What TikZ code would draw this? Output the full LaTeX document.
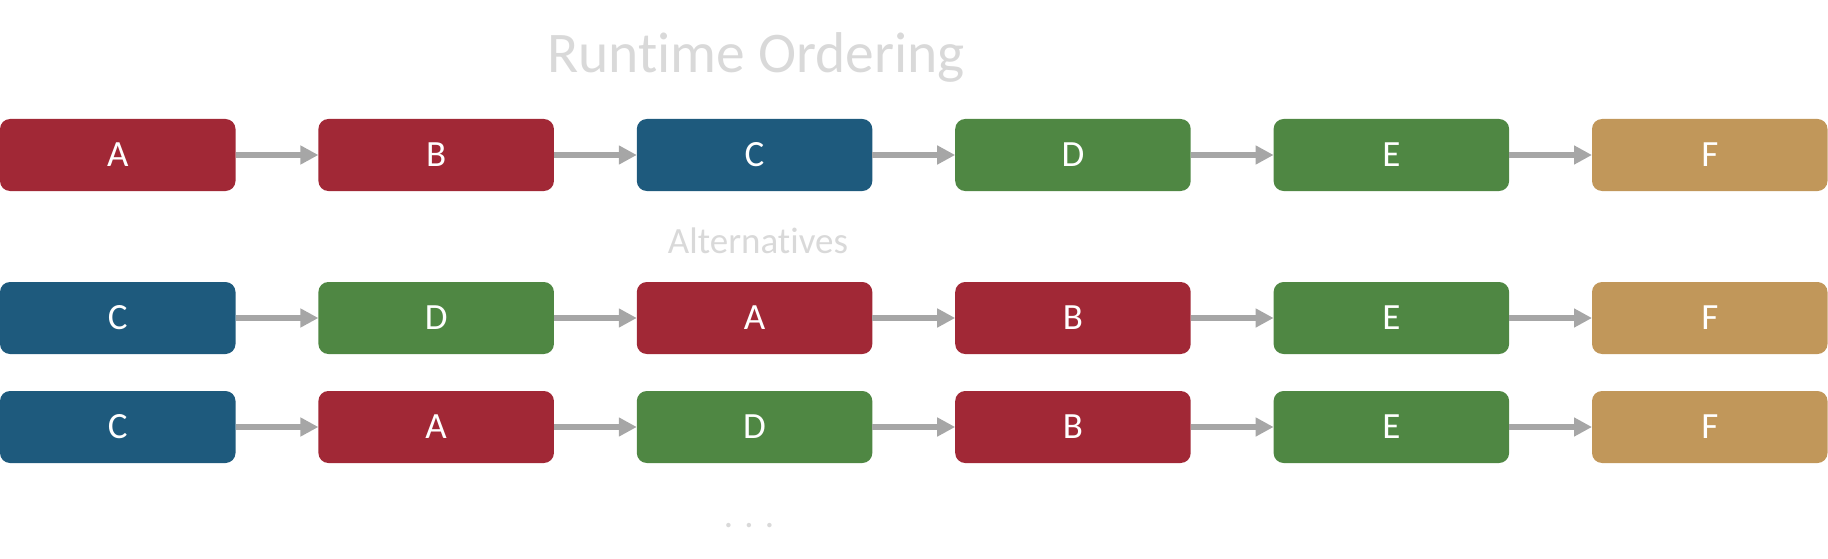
\documentclass[tikz,border=0pt]{standalone}
\usepackage{fontspec}
\setmainfont[Ligatures=NoCommon]{Carlito}
\usetikzlibrary{arrows.meta}
\definecolor{cred}{HTML}{A12836}
\definecolor{cblue}{HTML}{1E5A7D}
\definecolor{cgreen}{HTML}{4F8743}
\definecolor{ctan}{HTML}{C1975A}
\definecolor{carrow}{HTML}{A6A6A6}
\definecolor{ctitle}{HTML}{D9D9D9}
\tikzset{
  box/.style={rounded corners=10pt, minimum width=235.5pt, minimum height=72pt,
    inner sep=0pt, outer sep=0pt, text=white, font=\fontsize{37}{40}\selectfont},
  rbox/.style={box, fill=cred},
  bbox/.style={box, fill=cblue},
  gbox/.style={box, fill=cgreen},
  tbox/.style={box, fill=ctan},
  conn/.style={draw=carrow, line width=6pt, -{Triangle[length=18pt,width=18pt]}},
  heading/.style={text=ctitle, anchor=base, inner sep=0pt}
}
\begin{document}
\begin{tikzpicture}[x=1pt,y=-1pt]
\useasboundingbox (0,0) rectangle (1828,559);
\node[heading, font=\fontsize{57.5}{60}\selectfont] (title) at (756,73) {Runtime Ordering};
\node[heading, font=\fontsize{37}{40}\selectfont] (alt) at (758,253) {Alternatives};
\node[heading, font=\fontsize{37}{40}\selectfont] (dots) at (749,527) {. . .};
% row 1
\node[rbox] (a1) at (117.75,155) {A};
\node[rbox] (b1) at (436.15,155) {B};
\node[bbox] (c1) at (754.55,155) {C};
\node[gbox] (d1) at (1072.95,155) {D};
\node[gbox] (e1) at (1391.35,155) {E};
\node[tbox] (f1) at (1709.75,155) {F};
% row 2
\node[bbox] (a2) at (117.75,318) {C};
\node[gbox] (b2) at (436.15,318) {D};
\node[rbox] (c2) at (754.55,318) {A};
\node[rbox] (d2) at (1072.95,318) {B};
\node[gbox] (e2) at (1391.35,318) {E};
\node[tbox] (f2) at (1709.75,318) {F};
% row 3
\node[bbox] (a3) at (117.75,427) {C};
\node[rbox] (b3) at (436.15,427) {A};
\node[gbox] (c3) at (754.55,427) {D};
\node[rbox] (d3) at (1072.95,427) {B};
\node[gbox] (e3) at (1391.35,427) {E};
\node[tbox] (f3) at (1709.75,427) {F};
\foreach \r in {1,2,3}{
  \draw[conn] (a\r.east) -- (b\r.west);
  \draw[conn] (b\r.east) -- (c\r.west);
  \draw[conn] (c\r.east) -- (d\r.west);
  \draw[conn] (d\r.east) -- (e\r.west);
  \draw[conn] (e\r.east) -- (f\r.west);
}
\end{tikzpicture}
\end{document}
